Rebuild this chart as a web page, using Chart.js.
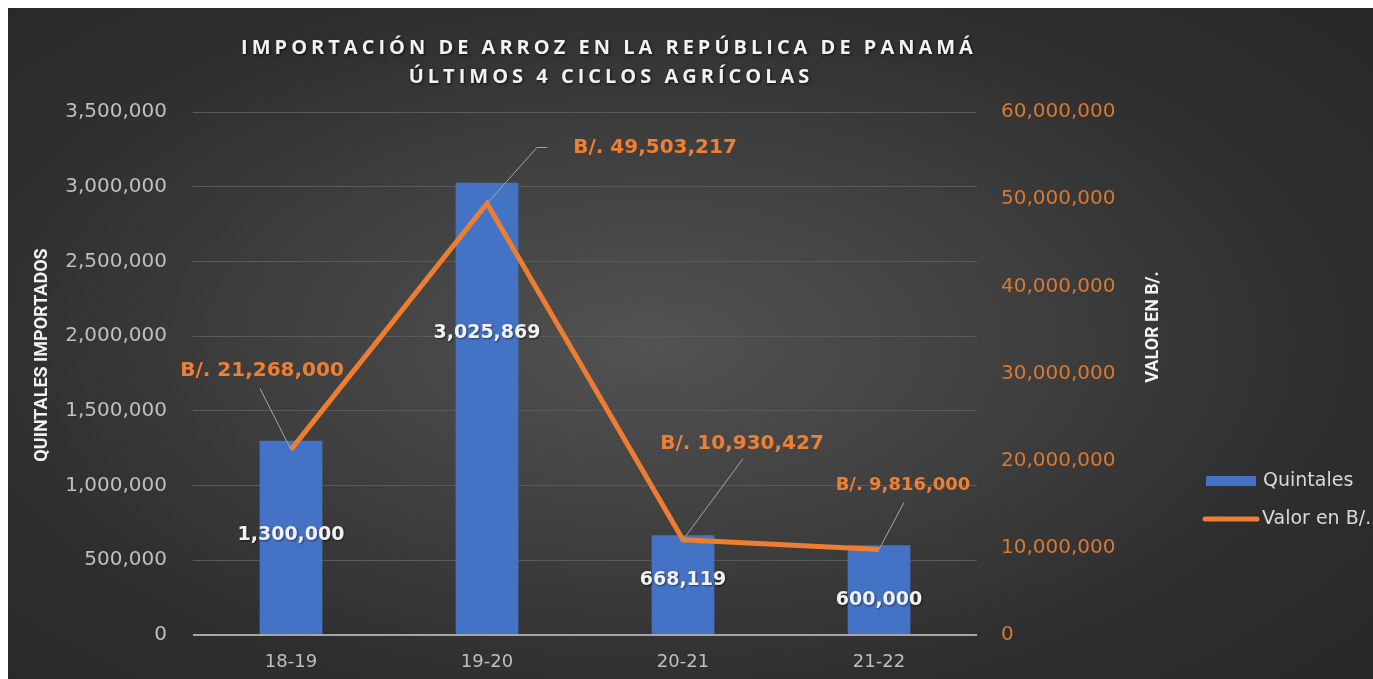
<!DOCTYPE html>
<html>
<head>
<meta charset="utf-8">
<script src="https://cdn.jsdelivr.net/npm/chart.js@4.4.0/dist/chart.umd.min.js"></script>
<style>
  html, body { margin: 0; padding: 0; background: #fff; overflow: hidden; }
  #wrap {
    position: absolute; left: 8px; top: 8px; width: 1365px; height: 671px;
    background: radial-gradient(ellipse 75% 80% at 47% 50%, #525252 0%, #404040 35%, #2f2f2f 65%, #262626 100%);
  }
</style>
</head>
<body>
<div id="wrap"><canvas id="chart" width="1365" height="671"></canvas></div>
<script>
const ciclos = ['18-19', '19-20', '20-21', '21-22'];
const quintales = [1300000, 3025869, 668119, 600000];
const valorBalboas = [21268000, 49503217, 10930427, 9816000];

const titleLines = ['IMPORTACIÓN DE ARROZ EN LA REPÚBLICA DE PANAMÁ', 'ÚLTIMOS 4 CICLOS AGRÍCOLAS'];
const leftTitle = 'QUINTALES IMPORTADOS';
const rightTitle = 'VALOR EN B/.';

// hand placed label nudges (pixels), like the original sheet
const barLabelNudge = [-2, -75, -5, 10];
const callouts = [
  {dx: -29, dy: -79, lx: -31, ly: -61, size: 20},
  {dx: 168, dy: -56, lx: 50, ly: -56, elbow: 10, size: 20},
  {dx: 59, dy: -96, lx: 60, ly: -81, size: 20},
  {dx: 24, dy: -64, lx: 25, ly: -47, size: 18}
];

const fmt = v => Number(v).toLocaleString('en-US');

const decor = {
  id: 'decor',
  afterDraw(chart) {
    const ctx = chart.ctx;
    ctx.save();

    // title
    ctx.fillStyle = '#f2f2f2';
    ctx.font = 'bold 20px "Open Sans"';
    ctx.textAlign = 'center';
    ctx.textBaseline = 'middle';
    ctx.letterSpacing = '4px';
    ctx.shadowColor = 'rgba(0,0,0,0.7)';
    ctx.shadowBlur = 3;
    ctx.shadowOffsetX = 1;
    ctx.shadowOffsetY = 1;
    ctx.fillText(titleLines[0], 601, 40);
    ctx.fillText(titleLines[1], 603, 69);
    ctx.letterSpacing = '0px';
    ctx.shadowColor = 'transparent';

    // axis titles
    ctx.font = 'bold 18px Roboto';
    ctx.fillStyle = '#f2f2f2';
    ctx.save();
    ctx.translate(34, 347);
    ctx.rotate(-Math.PI / 2);
    ctx.fillText(leftTitle, 0, 0);
    ctx.restore();
    ctx.save();
    ctx.translate(1145, 319);
    ctx.rotate(-Math.PI / 2);
    ctx.fillText(rightTitle, 0, 0);
    ctx.restore();

    // bar labels
    const bars = chart.getDatasetMeta(0).data;
    ctx.font = 'bold 19px "DejaVu Sans"';
    ctx.fillStyle = '#f2f2f2';
    ctx.shadowColor = 'rgba(0,0,0,0.5)';
    ctx.shadowBlur = 2;
    bars.forEach((b, i) => {
      ctx.fillText(fmt(quintales[i]), b.x, (b.y + b.base) / 2 + barLabelNudge[i]);
    });
    ctx.shadowColor = 'transparent';

    // line callouts
    const pts = chart.getDatasetMeta(1).data;
    pts.forEach((p, i) => {
      const c = callouts[i];
      ctx.strokeStyle = '#a6a6a6';
      ctx.lineWidth = 1;
      ctx.beginPath();
      ctx.moveTo(p.x, p.y);
      ctx.lineTo(p.x + c.lx, p.y + c.ly);
      if (c.elbow) ctx.lineTo(p.x + c.lx + c.elbow, p.y + c.ly);
      ctx.stroke();
      ctx.font = 'bold ' + c.size + 'px "DejaVu Sans"';
      ctx.fillStyle = '#ef7f33';
      ctx.fillText('B/. ' + fmt(valorBalboas[i]), p.x + c.dx, p.y + c.dy);
    });

    // legend
    const ds = chart.data.datasets;
    ctx.textAlign = 'left';
    ctx.font = '19px "DejaVu Sans"';
    ctx.fillStyle = ds[0].backgroundColor;
    ctx.fillRect(1198, 468, 50, 10);
    ctx.fillStyle = '#d9d9d9';
    ctx.fillText(ds[0].label, 1255, 473);
    ctx.strokeStyle = ds[1].borderColor;
    ctx.lineWidth = 5;
    ctx.lineCap = 'round';
    ctx.beginPath();
    ctx.moveTo(1197, 511);
    ctx.lineTo(1249, 511);
    ctx.stroke();
    ctx.fillStyle = '#d9d9d9';
    ctx.fillText(ds[1].label, 1254, 511);

    ctx.restore();
  }
};

new Chart(document.getElementById('chart').getContext('2d'), {
  data: {
    labels: ciclos,
    datasets: [
      {
        type: 'bar',
        label: 'Quintales',
        data: quintales,
        backgroundColor: '#4472c4',
        barPercentage: 0.32,
        categoryPercentage: 1,
        yAxisID: 'y',
        order: 1
      },
      {
        type: 'line',
        label: 'Valor en B/.',
        data: valorBalboas,
        borderColor: '#ed7d31',
        backgroundColor: '#ed7d31',
        borderWidth: 5,
        pointRadius: 0,
        tension: 0,
        yAxisID: 'y1',
        order: 0
      }
    ]
  },
  options: {
    responsive: false,
    animation: false,
    layout: { padding: { top: 104, left: 0, right: 0, bottom: 0 } },
    plugins: { legend: { display: false }, tooltip: { enabled: false } },
    scales: {
      x: {
        grid: { display: false, drawTicks: false },
        border: { display: false },
        ticks: { color: '#bfbfbf', font: { family: 'DejaVu Sans', size: 18 }, padding: 17 },
        afterFit: s => { s.height = 44; }
      },
      y: {
        position: 'left',
        min: 0,
        max: 3500000,
        ticks: { stepSize: 500000, color: '#bfbfbf', padding: 26, font: { family: 'DejaVu Sans', size: 20 }, callback: v => fmt(v) },
        grid: { drawTicks: false, color: ctx => ctx.tick.value === 0 ? '#a6a6a6' : '#5a5a5a', lineWidth: ctx => ctx.tick.value === 0 ? 2 : 1 },
        border: { display: false },
        afterFit: s => { s.width = 185; }
      },
      y1: {
        position: 'right',
        min: 0,
        max: 60000000,
        ticks: { stepSize: 10000000, color: '#d9782f', padding: 24, font: { family: 'DejaVu Sans', size: 20 }, callback: v => fmt(v) },
        grid: { display: false, drawTicks: false },
        border: { display: false },
        afterFit: s => { s.width = 396; }
      }
    }
  },
  plugins: [decor]
});
</script>
</body>
</html>
